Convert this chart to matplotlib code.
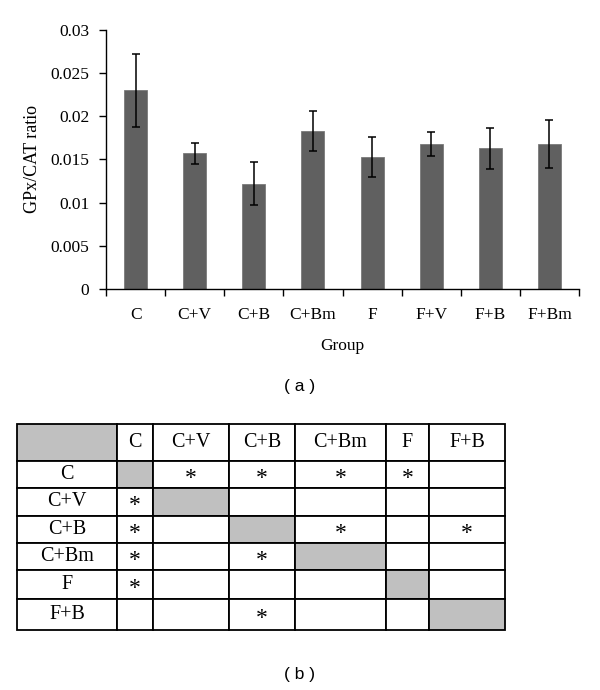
import matplotlib.pyplot as plt
import matplotlib.transforms as mtransforms
import numpy as np

# bar chart (a)
groups = ["C", "C+V", "C+B", "C+Bm", "F", "F+V", "F+B", "F+Bm"]
ratio = [0.0230, 0.0157, 0.0122, 0.0183, 0.0153, 0.0168, 0.0163, 0.0168]
ratio_err = [0.0042, 0.0012, 0.0025, 0.0023, 0.0023, 0.0014, 0.0024, 0.0028]

# table (b)
tab_groups = ["C", "C+V", "C+B", "C+Bm", "F", "F+B"]
signif = [
    [0, 1, 1, 1, 1, 0],
    [1, 0, 0, 0, 0, 0],
    [1, 0, 0, 1, 0, 1],
    [1, 0, 1, 0, 0, 0],
    [1, 0, 0, 0, 0, 0],
    [0, 0, 1, 0, 0, 0],
]

serif = ["Liberation Serif", "DejaVu Serif"]
plt.rcParams['font.family'] = serif

fig = plt.figure(figsize=(6, 6.9), dpi=100)

ax = fig.add_axes([0.1767, 0.5812, 0.7883, 0.3754])
x = np.arange(len(groups))
ax.bar(x, ratio, width=0.39, color="#606060", edgecolor="#7a7a7a", linewidth=0.6, zorder=2)
ax.errorbar(x, ratio, yerr=ratio_err, fmt="none", ecolor="black", elinewidth=1.1,
            capsize=3.2, capthick=1.1, zorder=3)
ax.set_xlim(-0.5, len(groups) - 0.5)
ax.set_ylim(0, 0.03)
ax.set_yticks([0, 0.005, 0.01, 0.015, 0.02, 0.025, 0.03])
ax.set_yticklabels(["0", "0.005", "0.01", "0.015", "0.02", "0.025", "0.03"])
ax.set_xticks(np.arange(len(groups) + 1) - 0.5)
ax.set_xticklabels([])
ax.set_xticks(x, minor=True)
ax.set_xticklabels(groups, minor=True)
ax.tick_params(axis="x", which="minor", length=0, pad=13, labelsize=12.5)
ax.tick_params(axis="x", which="major", direction="out", length=5, width=1)
ax.tick_params(axis="y", direction="out", length=5, width=1, labelsize=12.5, pad=7)
for s in ["top", "right"]:
    ax.spines[s].set_visible(False)
ax.spines["left"].set_linewidth(1)
ax.spines["bottom"].set_linewidth(1)
ax.set_xlabel("Group", fontsize=12.5, labelpad=11)
ax.set_ylabel("GPx/CAT ratio", fontsize=13, labelpad=7)

fig.text(0.5, 1 - 387 / 690, "( a )", ha="center", va="center", fontsize=12.5,
         family=["Liberation Sans", "DejaVu Sans"])

# table
tax = fig.add_axes([0.0283, 0.0870, 0.8133, 0.2986])
tax.axis("off")
n = len(tab_groups)
cells = [[""] + tab_groups]
colours = [["#c0c0c0"] + ["white"] * n]
for i, g in enumerate(tab_groups):
    row = [g]
    crow = ["white"]
    for j in range(n):
        row.append("*" if signif[i][j] else "")
        crow.append("#c0c0c0" if i == j else "white")
    cells.append(row)
    colours.append(crow)

col_w = [100, 36, 76, 66, 91, 43, 76]
row_h = [37, 27, 28, 27, 27, 29, 31]
tbl = tax.table(cellText=cells, cellColours=colours, colWidths=col_w,
                cellLoc="center", bbox=[0, 0, 1, 1])
tbl.auto_set_font_size(False)
for (r, c), cell in tbl.get_celld().items():
    cell.set_height(row_h[r])
    cell.set_linewidth(1.3)
    cell.set_edgecolor("black")
    txt = cell.get_text()
    txt.set_fontsize(14.5)
    txt.set_family(serif)
    if txt.get_text() == "*":
        txt.set_fontsize(17)
        txt.set_transform(mtransforms.Affine2D().translate(0, -4))

fig.text(0.5, 1 - 675 / 690, "( b )", ha="center", va="center", fontsize=12.5,
         family=["Liberation Sans", "DejaVu Sans"])

fig.savefig("out.png", dpi=100)
